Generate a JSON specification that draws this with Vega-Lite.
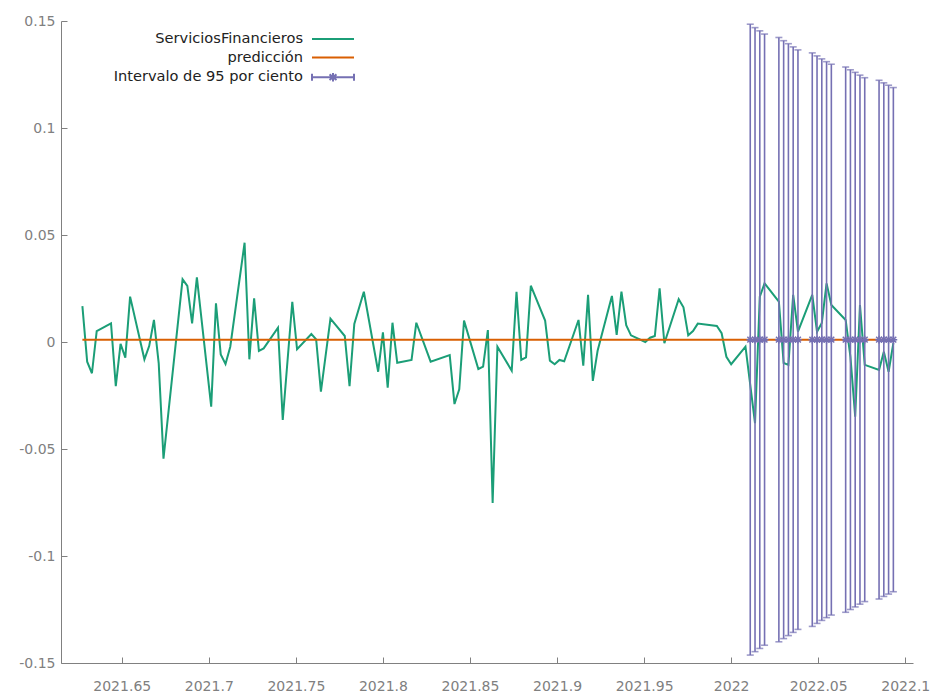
{
  "$schema": "https://vega.github.io/schema/vega-lite/v6.json",
  "autosize": {"type": "none"},
  "width": 852,
  "height": 642,
  "padding": {"left": 61, "top": 21, "right": 21, "bottom": 30},
  "background": "white",
  "config": {
    "view": {"stroke": null},
    "font": "DejaVu Sans",
    "axis": {
      "grid": false,
      "domainColor": "#808080",
      "tickColor": "#808080",
      "labelColor": "#808080",
      "labelFont": "DejaVu Sans",
      "labelFontSize": 14,
      "tickSize": -6,
      "title": null
    },
    "legend": {
      "labelFont": "DejaVu Sans",
      "labelFontSize": 14.6,
      "labelColor": "#222222",
      "labelLimit": 400
    }
  },
  "data": {
    "values": [
      {"t": 2021.627397, "a": 0.0168, "p": 0.0011},
      {"t": 2021.630137, "a": -0.0092, "p": 0.0011},
      {"t": 2021.632877, "a": -0.0146, "p": 0.0011},
      {"t": 2021.635616, "a": 0.0051, "p": 0.0011},
      {"t": 2021.643836, "a": 0.0087, "p": 0.0011},
      {"t": 2021.646575, "a": -0.0206, "p": 0.0011},
      {"t": 2021.649315, "a": -0.0009, "p": 0.0011},
      {"t": 2021.652055, "a": -0.0073, "p": 0.0011},
      {"t": 2021.654795, "a": 0.0212, "p": 0.0011},
      {"t": 2021.663014, "a": -0.0081, "p": 0.0011},
      {"t": 2021.665753, "a": -0.0019, "p": 0.0011},
      {"t": 2021.668493, "a": 0.0103, "p": 0.0011},
      {"t": 2021.671233, "a": -0.0100, "p": 0.0011},
      {"t": 2021.673973, "a": -0.0545, "p": 0.0011},
      {"t": 2021.684932, "a": 0.0293, "p": 0.0011},
      {"t": 2021.687671, "a": 0.0262, "p": 0.0011},
      {"t": 2021.690411, "a": 0.0087, "p": 0.0011},
      {"t": 2021.693151, "a": 0.0302, "p": 0.0011},
      {"t": 2021.701370, "a": -0.0302, "p": 0.0011},
      {"t": 2021.704110, "a": 0.0181, "p": 0.0011},
      {"t": 2021.706849, "a": -0.0058, "p": 0.0011},
      {"t": 2021.709589, "a": -0.0103, "p": 0.0011},
      {"t": 2021.712329, "a": -0.0022, "p": 0.0011},
      {"t": 2021.720548, "a": 0.0464, "p": 0.0011},
      {"t": 2021.723288, "a": -0.0081, "p": 0.0011},
      {"t": 2021.726027, "a": 0.0204, "p": 0.0011},
      {"t": 2021.728767, "a": -0.0042, "p": 0.0011},
      {"t": 2021.731507, "a": -0.0030, "p": 0.0011},
      {"t": 2021.739726, "a": 0.0067, "p": 0.0011},
      {"t": 2021.742466, "a": -0.0364, "p": 0.0011},
      {"t": 2021.747945, "a": 0.0188, "p": 0.0011},
      {"t": 2021.750685, "a": -0.0034, "p": 0.0011},
      {"t": 2021.758904, "a": 0.0037, "p": 0.0011},
      {"t": 2021.761644, "a": 0.0012, "p": 0.0011},
      {"t": 2021.764384, "a": -0.0232, "p": 0.0011},
      {"t": 2021.769863, "a": 0.0109, "p": 0.0011},
      {"t": 2021.778082, "a": 0.0028, "p": 0.0011},
      {"t": 2021.780822, "a": -0.0206, "p": 0.0011},
      {"t": 2021.783562, "a": 0.0084, "p": 0.0011},
      {"t": 2021.789041, "a": 0.0235, "p": 0.0011},
      {"t": 2021.797260, "a": -0.0139, "p": 0.0011},
      {"t": 2021.800000, "a": 0.0045, "p": 0.0011},
      {"t": 2021.802740, "a": -0.0213, "p": 0.0011},
      {"t": 2021.805479, "a": 0.0090, "p": 0.0011},
      {"t": 2021.808219, "a": -0.0097, "p": 0.0011},
      {"t": 2021.816438, "a": -0.0084, "p": 0.0011},
      {"t": 2021.819178, "a": 0.0090, "p": 0.0011},
      {"t": 2021.827397, "a": -0.0092, "p": 0.0011},
      {"t": 2021.838356, "a": -0.0061, "p": 0.0011},
      {"t": 2021.841096, "a": -0.0290, "p": 0.0011},
      {"t": 2021.843836, "a": -0.0221, "p": 0.0011},
      {"t": 2021.846575, "a": 0.0100, "p": 0.0011},
      {"t": 2021.854795, "a": -0.0126, "p": 0.0011},
      {"t": 2021.857534, "a": -0.0115, "p": 0.0011},
      {"t": 2021.860274, "a": 0.0056, "p": 0.0011},
      {"t": 2021.863014, "a": -0.0752, "p": 0.0011},
      {"t": 2021.865753, "a": -0.0022, "p": 0.0011},
      {"t": 2021.873973, "a": -0.0134, "p": 0.0011},
      {"t": 2021.876712, "a": 0.0235, "p": 0.0011},
      {"t": 2021.879452, "a": -0.0084, "p": 0.0011},
      {"t": 2021.882192, "a": -0.0072, "p": 0.0011},
      {"t": 2021.884932, "a": 0.0263, "p": 0.0011},
      {"t": 2021.893151, "a": 0.0100, "p": 0.0011},
      {"t": 2021.895890, "a": -0.0087, "p": 0.0011},
      {"t": 2021.898630, "a": -0.0104, "p": 0.0011},
      {"t": 2021.901370, "a": -0.0084, "p": 0.0011},
      {"t": 2021.904110, "a": -0.0090, "p": 0.0011},
      {"t": 2021.912329, "a": 0.0103, "p": 0.0011},
      {"t": 2021.915068, "a": -0.0111, "p": 0.0011},
      {"t": 2021.917808, "a": 0.0220, "p": 0.0011},
      {"t": 2021.920548, "a": -0.0182, "p": 0.0011},
      {"t": 2021.923288, "a": -0.0041, "p": 0.0011},
      {"t": 2021.931507, "a": 0.0215, "p": 0.0011},
      {"t": 2021.934247, "a": 0.0033, "p": 0.0011},
      {"t": 2021.936986, "a": 0.0235, "p": 0.0011},
      {"t": 2021.939726, "a": 0.0079, "p": 0.0011},
      {"t": 2021.942466, "a": 0.0031, "p": 0.0011},
      {"t": 2021.950685, "a": 0.0000, "p": 0.0011},
      {"t": 2021.953425, "a": 0.0020, "p": 0.0011},
      {"t": 2021.956164, "a": 0.0028, "p": 0.0011},
      {"t": 2021.958904, "a": 0.0251, "p": 0.0011},
      {"t": 2021.961644, "a": -0.0006, "p": 0.0011},
      {"t": 2021.969863, "a": 0.0200, "p": 0.0011},
      {"t": 2021.972603, "a": 0.0162, "p": 0.0011},
      {"t": 2021.975342, "a": 0.0031, "p": 0.0011},
      {"t": 2021.978082, "a": 0.0051, "p": 0.0011},
      {"t": 2021.980822, "a": 0.0086, "p": 0.0011},
      {"t": 2021.991781, "a": 0.0075, "p": 0.0011},
      {"t": 2021.994521, "a": 0.0041, "p": 0.0011},
      {"t": 2021.997260, "a": -0.0069, "p": 0.0011},
      {"t": 2022.000000, "a": -0.0104, "p": 0.0011},
      {"t": 2022.008219, "a": -0.0022, "p": 0.0011},
      {"t": 2022.010959, "p": 0.0011, "lo": -0.1463, "hi": 0.1485},
      {"t": 2022.013699, "a": -0.0379, "p": 0.0011, "lo": -0.1447, "hi": 0.1469},
      {"t": 2022.016438, "a": 0.0212, "p": 0.0011, "lo": -0.1432, "hi": 0.1454},
      {"t": 2022.019178, "a": 0.0274, "p": 0.0011, "lo": -0.1417, "hi": 0.1439},
      {"t": 2022.027397, "a": 0.0189, "p": 0.0011, "lo": -0.1401, "hi": 0.1423},
      {"t": 2022.030137, "a": -0.0098, "p": 0.0011, "lo": -0.1386, "hi": 0.1408},
      {"t": 2022.032877, "a": -0.0107, "p": 0.0011, "lo": -0.1372, "hi": 0.1394},
      {"t": 2022.035616, "a": 0.0220, "p": 0.0011, "lo": -0.1357, "hi": 0.1379},
      {"t": 2022.038356, "a": 0.0048, "p": 0.0011, "lo": -0.1343, "hi": 0.1365},
      {"t": 2022.046575, "a": 0.0220, "p": 0.0011, "lo": -0.1329, "hi": 0.1351},
      {"t": 2022.049315, "a": 0.0048, "p": 0.0011, "lo": -0.1315, "hi": 0.1337},
      {"t": 2022.052055, "a": 0.0089, "p": 0.0011, "lo": -0.1301, "hi": 0.1323},
      {"t": 2022.054795, "a": 0.0274, "p": 0.0011, "lo": -0.1288, "hi": 0.1310},
      {"t": 2022.057534, "a": 0.0173, "p": 0.0011, "lo": -0.1276, "hi": 0.1298},
      {"t": 2022.065753, "a": 0.0103, "p": 0.0011, "lo": -0.1263, "hi": 0.1285},
      {"t": 2022.068493, "a": -0.0069, "p": 0.0011, "lo": -0.1250, "hi": 0.1272},
      {"t": 2022.071233, "a": -0.0349, "p": 0.0011, "lo": -0.1238, "hi": 0.1260},
      {"t": 2022.073973, "a": 0.0173, "p": 0.0011, "lo": -0.1225, "hi": 0.1247},
      {"t": 2022.076712, "a": -0.0107, "p": 0.0011, "lo": -0.1213, "hi": 0.1235},
      {"t": 2022.084932, "a": -0.0131, "p": 0.0011, "lo": -0.1201, "hi": 0.1223},
      {"t": 2022.087671, "a": -0.0045, "p": 0.0011, "lo": -0.1189, "hi": 0.1211},
      {"t": 2022.090411, "a": -0.0139, "p": 0.0011, "lo": -0.1178, "hi": 0.1200},
      {"t": 2022.093151, "a": -0.0005, "p": 0.0011, "lo": -0.1167, "hi": 0.1189}
    ]
  },
  "encoding": {
    "x": {
      "field": "t",
      "type": "quantitative",
      "scale": {"domain": [2021.61511, 2022.10443], "nice": false, "zero": false},
      "axis": {
        "values": [2021.65, 2021.7, 2021.75, 2021.8, 2021.85, 2021.9, 2021.95, 2022, 2022.05, 2022.1],
        "labelExpr": "format(datum.value, '.12~g')",
        "labelPadding": 22
      }
    }
  },
  "layer": [
    {
      "mark": {"type": "rule", "color": "#555555", "strokeWidth": 1, "strokeDash": [1.5, 3]},
      "encoding": {
        "y": {
          "datum": 0,
          "type": "quantitative",
          "scale": {"domain": [-0.15, 0.15], "nice": false, "zero": false},
          "axis": {
            "values": [-0.15, -0.1, -0.05, 0, 0.05, 0.1, 0.15],
            "labelExpr": "replace(format(datum.value, '.12~g'), '\u2212', '-')",
            "labelPadding": 12
          }
        }
      }
    },
    {
      "transform": [{"filter": "datum.a != null"}],
      "mark": {"type": "line", "strokeWidth": 2},
      "encoding": {
        "y": {"field": "a", "type": "quantitative"},
        "color": {
          "datum": "ServiciosFinancieros",
          "type": "nominal",
          "scale": {
            "domain": ["ServiciosFinancieros", "predicción", "Intervalo de 95 por ciento"],
            "range": ["#1b9e77", "#d95f02", "#7570b3"]
          },
          "legend": {
            "title": null,
            "orient": "none",
            "legendX": 264,
            "legendY": 10,
            "padding": 0,
            "symbolSize": 196,
            "symbolStrokeWidth": 2,
            "labelAlign": "right",
            "labelOffset": -38,
            "rowPadding": 3.6,
            "encode": {
              "symbols": {
                "update": {
                  "shape": {"signal": "datum.value === 'Intervalo de 95 por ciento' ? 'M-3,0H3M-3,-0.5V0.5M3,-0.5V0.5M0,-0.6V0.6M-0.5,-0.4L0.5,0.4M-0.5,0.4L0.5,-0.4' : 'M-3,0H3'"},
                  "fill": {"value": "transparent"},
                  "fillOpacity": {"value": 0},
                  "stroke": {"scale": "color", "field": "value"},
                  "strokeWidth": {"value": 2},
                  "opacity": {"value": 1}
                }
              }
            }
          }
        }
      }
    },
    {
      "mark": {"type": "line", "strokeWidth": 2},
      "encoding": {
        "y": {"field": "p", "type": "quantitative"},
        "color": {"datum": "predicción", "type": "nominal"}
      }
    },
    {
      "transform": [{"filter": "datum.lo != null"}],
      "mark": {"type": "rule", "strokeWidth": 1.6},
      "encoding": {
        "y": {"field": "lo", "type": "quantitative"},
        "y2": {"field": "hi"},
        "color": {"datum": "Intervalo de 95 por ciento", "type": "nominal"}
      }
    },
    {
      "transform": [{"filter": "datum.lo != null"}],
      "mark": {"type": "tick", "orient": "horizontal", "size": 7, "thickness": 1.6},
      "encoding": {
        "y": {"field": "hi", "type": "quantitative"},
        "color": {"datum": "Intervalo de 95 por ciento", "type": "nominal"}
      }
    },
    {
      "transform": [{"filter": "datum.lo != null"}],
      "mark": {"type": "tick", "orient": "horizontal", "size": 7, "thickness": 1.6},
      "encoding": {
        "y": {"field": "lo", "type": "quantitative"},
        "color": {"datum": "Intervalo de 95 por ciento", "type": "nominal"}
      }
    },
    {
      "transform": [{"filter": "datum.lo != null"}],
      "mark": {"type": "point", "shape": "M-1,0H1M0,-1V1M-0.75,-0.75L0.75,0.75M-0.75,0.75L0.75,-0.75", "size": 60, "filled": false, "strokeWidth": 1.5, "opacity": 1},
      "encoding": {
        "y": {"field": "p", "type": "quantitative"},
        "color": {"datum": "Intervalo de 95 por ciento", "type": "nominal"}
      }
    }
  ]
}
